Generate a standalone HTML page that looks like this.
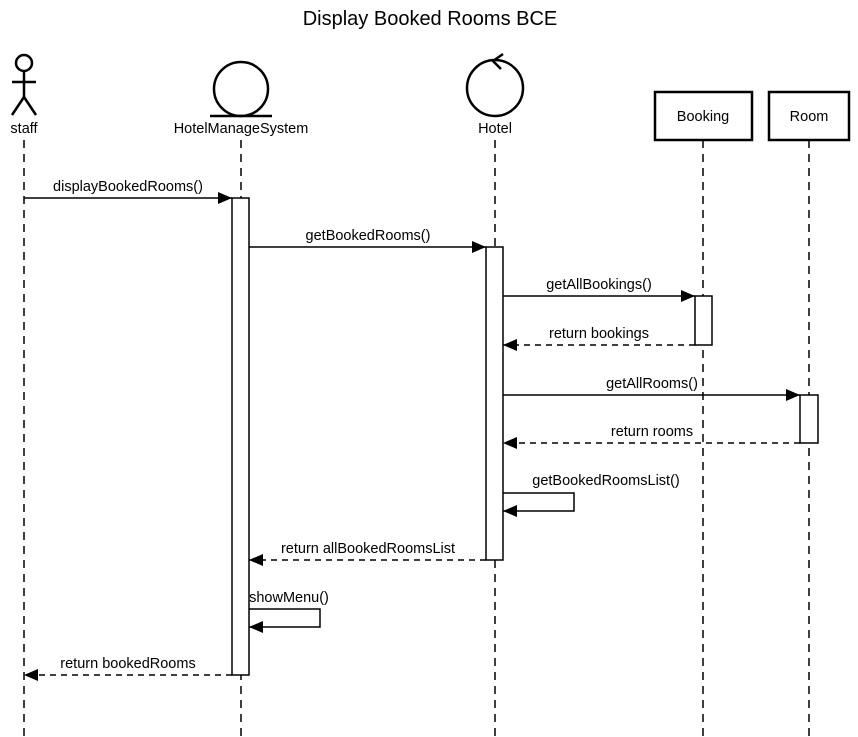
<!DOCTYPE html>
<html><head><style>body{margin:0;background:#fff}svg{display:block}text{font-family:"Liberation Sans",sans-serif;font-size:14.5px;fill:#000}</style></head><body>
<svg width="858" height="737" viewBox="0 0 858 737" xmlns="http://www.w3.org/2000/svg">
<defs><marker id="a" markerWidth="14" markerHeight="12" refX="14" refY="6" orient="auto" markerUnits="userSpaceOnUse"><path d="M0,0L14,6L0,12z" fill="#000"/></marker></defs>
<text x="430" y="25" text-anchor="middle" style="font-size:20px">Display Booked Rooms BCE</text>
<g stroke="#000" stroke-width="1.5" fill="none">
<line x1="24" y1="140" x2="24" y2="737" stroke-dasharray="8,6"/>
<line x1="241" y1="140" x2="241" y2="737" stroke-dasharray="8,6"/>
<line x1="495" y1="140" x2="495" y2="737" stroke-dasharray="8,6"/>
<line x1="703" y1="140" x2="703" y2="737" stroke-dasharray="8,6"/>
<line x1="809" y1="140" x2="809" y2="737" stroke-dasharray="8,6"/>
<g stroke-width="2.5"><circle cx="24" cy="63" r="8"/><line x1="24" y1="71" x2="24" y2="97"/><line x1="12" y1="82" x2="36" y2="82"/><line x1="24" y1="97" x2="12" y2="115"/><line x1="24" y1="97" x2="36" y2="115"/>
<circle cx="241" cy="89" r="27"/><line x1="210" y1="116" x2="272" y2="116"/>
<circle cx="495" cy="88" r="28"/><path d="M503,54L493,61L501,69"/>
<rect x="655" y="92" width="97" height="48" fill="#fff"/><rect x="769" y="92" width="80" height="48" fill="#fff"/></g>
<rect x="232" y="198" width="17" height="477" fill="#fff"/>
<rect x="486" y="247" width="17" height="313" fill="#fff"/>
<rect x="695" y="296" width="17" height="49" fill="#fff"/>
<rect x="800" y="395" width="18" height="48" fill="#fff"/>
<line x1="24" y1="198" x2="232" y2="198" marker-end="url(#a)"/>
<line x1="249" y1="247" x2="486" y2="247" marker-end="url(#a)"/>
<line x1="503" y1="296" x2="695" y2="296" marker-end="url(#a)"/>
<line x1="695" y1="345" x2="503" y2="345" stroke-dasharray="6,5" marker-end="url(#a)"/>
<line x1="503" y1="395" x2="800" y2="395" marker-end="url(#a)"/>
<line x1="800" y1="443" x2="503" y2="443" stroke-dasharray="6,5" marker-end="url(#a)"/>
<polyline points="503,493 574,493 574,511 503,511" marker-end="url(#a)"/>
<line x1="486" y1="560" x2="249" y2="560" stroke-dasharray="6,5" marker-end="url(#a)"/>
<polyline points="249,609 320,609 320,627 249,627" marker-end="url(#a)"/>
<line x1="232" y1="675" x2="24" y2="675" stroke-dasharray="6,5" marker-end="url(#a)"/>
</g>
<g text-anchor="middle">
<text x="24" y="133">staff</text><text x="241" y="133">HotelManageSystem</text><text x="495" y="133">Hotel</text>
<text x="703" y="121">Booking</text><text x="809" y="121">Room</text>
<text x="128" y="191">displayBookedRooms()</text>
<text x="368" y="240">getBookedRooms()</text>
<text x="599" y="289">getAllBookings()</text>
<text x="599" y="338">return bookings</text>
<text x="652" y="388">getAllRooms()</text>
<text x="652" y="436">return rooms</text>
<text x="606" y="485">getBookedRoomsList()</text>
<text x="368" y="553">return allBookedRoomsList</text>
<text x="289" y="602">showMenu()</text>
<text x="128" y="668">return bookedRooms</text>
</g>
</svg>
</body></html>
